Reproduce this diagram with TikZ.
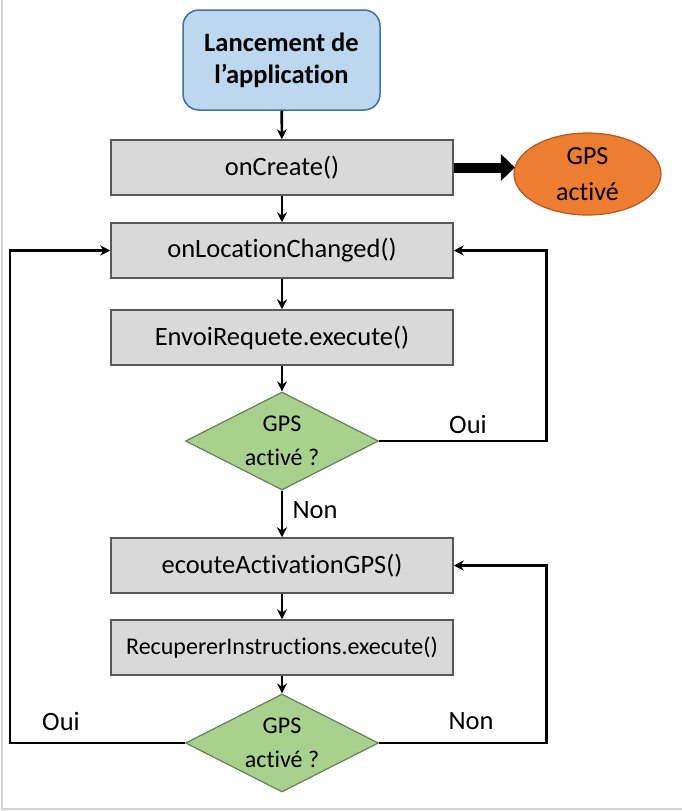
\documentclass[tikz,border=0pt]{standalone}
\usepackage{fontspec}
\setmainfont{Carlito}[Ligatures={NoCommon}]
\usetikzlibrary{shapes.geometric,arrows.meta}
\definecolor{topfill}{HTML}{BDD7EE}
\definecolor{topdraw}{HTML}{41719C}
\definecolor{boxfill}{HTML}{D9D9D9}
\definecolor{boxdraw}{HTML}{595959}
\definecolor{ellfill}{HTML}{ED7D31}
\definecolor{elldraw}{HTML}{AE5A21}
\definecolor{diafill}{HTML}{A9D18E}
\definecolor{diadraw}{HTML}{667F5A}
\definecolor{framec}{HTML}{D4D4D4}
\tikzset{
  x=1pt, y=-1pt,
  topbox/.style={draw=topdraw, fill=topfill, line width=1.5pt, rounded corners=16pt,
    minimum width=197pt, minimum height=100pt, align=center, inner sep=0pt,
    font=\fontsize{26.5}{32}\selectfont\bfseries},
  stepbox/.style={draw=boxdraw, fill=boxfill, line width=1.5pt,
    minimum width=342pt, minimum height=55pt, inner sep=0pt,
    font=\fontsize{26.5}{30}\selectfont},
  gpsell/.style={ellipse, draw=elldraw, fill=ellfill, line width=1.2pt,
    minimum width=147pt, minimum height=82pt, inner sep=0pt, align=center,
    font=\fontsize{26}{36}\selectfont},
  decision/.style={diamond, draw=diadraw, fill=diafill, line width=1.2pt,
    minimum width=193pt, minimum height=98pt, inner sep=0pt, aspect=1.93,
    align=center, font=\fontsize{24}{34}\selectfont},
  flow/.style={line width=2.6pt, -{Stealth[length=10pt,width=10pt]}},
  lbl/.style={font=\fontsize{26.5}{30}\selectfont, inner sep=0pt}
}
\begin{document}
\begin{tikzpicture}
\useasboundingbox (0,0) rectangle (682,811);
\draw[framec, line width=1.5pt] (2,0) -- (2,809) -- (682,809);

\node[topbox] (start) at (281.5,60) {Lancement de\\l’application};
\node[stepbox] (create) at (282,167.5) {onCreate()};
\node[gpsell] (gps) at (587.5,174) {GPS\\activé};
\node[stepbox] (loc) at (282,250.5) {onLocationChanged()};
\node[stepbox] (envoi) at (282,337.5) {EnvoiRequete.execute()};
\node[decision] (d1) at (282,441) {GPS\\activé ?};
\node[stepbox] (ecoute) at (282,565.5) {ecouteActivationGPS()};
\node[stepbox, font=\fontsize{24}{28}\selectfont] (recup) at (282,647.5) {RecupererInstructions.execute()};
\node[decision] (d2) at (282,743) {GPS\\activé ?};

\coordinate (gpsin) at ([xshift=1.5pt]gps.west |- create.east);
\coordinate (r1) at (546.5,441);
\coordinate (r2) at (546.5,743);
\coordinate (l2) at (10,743);

\draw[flow] (start) -- (create);
\draw[line width=10pt, -{Triangle[length=14pt,width=26pt]}] (create.east) -- (gpsin);
\draw[flow] (create) -- (loc);
\draw[flow] (loc) -- (envoi);
\draw[flow] (envoi) -- (d1);
\draw[flow] (d1.east) -- (r1) |- (loc.east);
\draw[flow] (d1) -- (ecoute);
\draw[flow] (ecoute) -- (recup);
\draw[flow] (recup) -- (d2);
\draw[flow] (d2.east) -- (r2) |- (ecoute.east);
\draw[flow] (d2.west) -- (l2) |- (loc.west);

\node[lbl] (oui1) at (468,424) {Oui};
\node[lbl] (non1) at (315,510) {Non};
\node[lbl] (oui2) at (61,721) {Oui};
\node[lbl] (non2) at (471,721) {Non};
\end{tikzpicture}
\end{document}
